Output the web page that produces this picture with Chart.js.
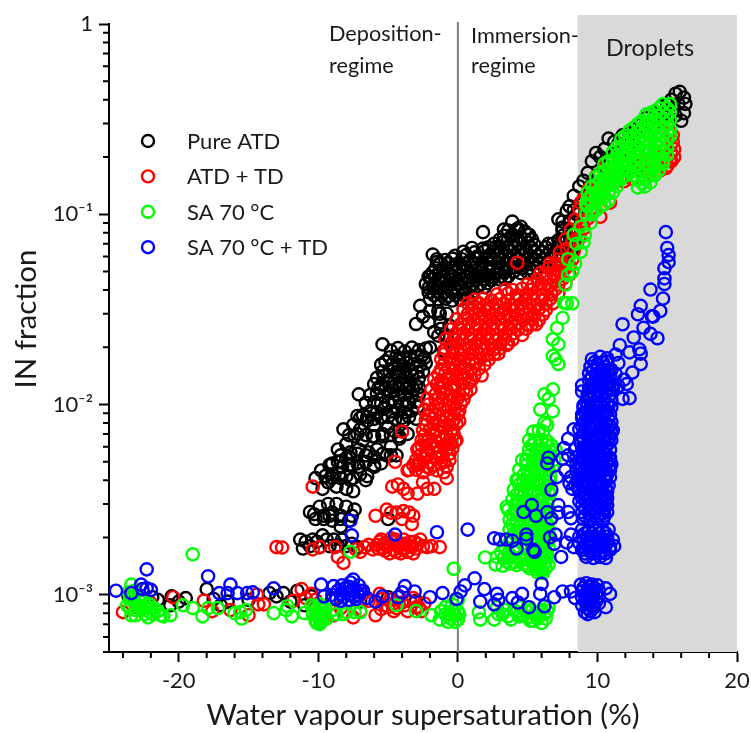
<!DOCTYPE html>
<html><head><meta charset="utf-8"><style>html,body{margin:0;padding:0;background:#fff}canvas{display:block}</style>
<script src="https://cdn.jsdelivr.net/npm/chart.js@4"></script></head>
<body><canvas id="c" width="751" height="733"></canvas>
<script>
const seriesNames=["Pure ATD","ATD + TD","SA 70 °C","SA 70 °C + TD"];
const seriesColors=["#000000","#ff0000","#00ff00","#0000ff"];
const xMajor=[-20,-10,0,10,20];
const xMinor=[-24,-22,-18,-16,-14,-12,-8,-6,-4,-2,2,4,6,8,12,14,16,18];
const yMajor=[1,0.1,0.01,0.001];
const yMinor=[0.9,0.8,0.7,0.6,0.5,0.4,0.3,0.2,0.09,0.08,0.07,0.06,0.05,0.04,0.03,0.02,0.009,0.008,0.007,0.006,0.005,0.004,0.003,0.002,0.0009,0.0008,0.0007,0.0006,0.0005];
const yTickText={"1":"1","0.1":"10⁻¹","0.01":"10⁻²","0.001":"10⁻³"};
const regimeNotes=[["Deposition-",329,41],["regime",329,73],["Immersion-",471,43],["regime",471,73],["Droplets",606,56]];

const pureAtd=[
[-23.6,.00098],[-23.2,.00092],[-22.8,.00096],[-22.3,.00088],[-21.9,.00097],[-21.5,.00094],[-20.6,.00088],[-20.5,.00098],[-20,.00092],[-19.5,.00096],[-18,.00107],[-17.5,.00095],[-17,.00088],[-16.5,.00092],[-15,.00094],[-13.5,.00102],[-13,.00098],[-12.5,.00102],[-12,.00092],[-11.5,.00105],[-11,.00088],[-10.5,.00098],[-9,.00095],[-7,.00092],[-5,.00097],[-3,.00093],
[-11.3,.00195],[-11.1,.00175],[-10.9,.0019],[-10.6,.0018],[-10.4,.00195],[-10.1,.0019],[-9.9,.00178],[-9.7,.00205],[-9.4,.00195],[-9.2,.0018],[-8.9,.00195],[-8.6,.00182],[-8.3,.00195],[-8,.0018],[-7.6,.00185],[-7.2,.00178],[-8.4,.00228],
[-10.6,.00272],[-10.3,.00265],[-9.9,.0029],[-9.6,.0026],[-9.3,.003],[-9,.0027],[-8.7,.003],[-8.4,.0026],[-8,.0029],[-7.6,.0026],[-7.4,.0028],[-9.2,.0026],[-5,.0025],
[-10.2,.0041],[-9.8,.0045],[-9.7,.0036],[-9.3,.0039],[-9,.0043],[-8.7,.0037],[-8.4,.0041],[-8,.0036],[-7.7,.004],[-7.5,.0035],[-9.2,.0048],[-8.6,.005],[-8.3,.0047],[-8,.0052],[-7.6,.0048],[-7.1,.0047],[-6.6,.004],[-6,.0047],
[-8.6,.0058],[-8.2,.0074],[-8,.0062],[-7.7,.0056],[-7.4,.0068],[-7.1,.0058],[-6.8,.0065],[-6.4,.0056],[-6.1,.0068],[-5.8,.0058],[-5.4,.0068],[-5.1,.0054],[-4.8,.006],[-7.5,.0078],[-7,.0074],[-6.5,.0082],[-6,.0078],[-5.5,.0086],[-5,.0076],[-4.5,.0072],[-4.2,.0066],[-3.9,.0082],
[-7.2,.0087],[-6.8,.0088],[-6.3,.0092],[-5.8,.0091],[-5.3,.0095],[-4.8,.0092],[-4.3,.0094],[-3.8,.0091],[-3.3,.0093],[-2.9,.0097],
[-7.1,.0113],[-6.3,.0112],[-5.8,.0114],[-5.3,.0111],[-4.8,.0115],[-4.3,.0112],[-3.8,.0113],[-3.3,.0111],[-2.8,.0113],
[-6,.0128],[-5.5,.0126],[-5,.0129],[-4.5,.0125],[-4,.0128],[-3.5,.0127],[-3,.0126],
[-5.8,.0138],[-5.3,.0141],[-4.8,.0137],[-4.3,.0142],[-3.8,.0139],[-3.3,.0143],[-2.8,.0137],
[-5.5,.0162],[-5.2,.0168],[-4.7,.0163],[-4.2,.0161],[-3.7,.0166],[-3.2,.0163],[-2.7,.0161],[-2.3,.0165],
[-5.4,.0207],[-4.8,.0192],[-4.3,.0198],[-3.8,.019],[-3.3,.0199],[-2.8,.0193],[-2.3,.0197],[-2,.0199],[-1,.0191],[-4.2,.0175],[-3.4,.0178],[-2.6,.018],
[-2.1,.027],[-3,.0265],[-2.7,.033],[-2.5,.029],[-1.3,.03],[-1.8,.0614],[-1.5,.056],[-2,.047],[-2.1,.041],[-.8,.023],[-1.2,.025],[-1.7,.024],
[-2,.0356],[-1.4,.0356],[-.9,.036],[-.4,.0352],[.2,.0356],[.7,.036],
[-2.1,.039],[-1.5,.0392],[-1,.0388],[-.5,.0394],[0,.039],[.5,.0386],[1.1,.039],
[-2.3,.043],[-1.7,.0428],[-1.2,.0434],[-.7,.0428],[-.1,.043],[.5,.0436],[1,.0428],[1.6,.043],[2.1,.0434],
[-2.1,.047],[-1.6,.0474],[-1,.0466],[-.4,.047],[.1,.0476],[.7,.0468],[1.3,.047],[1.9,.0475],[2.5,.0468],[3.1,.047],[3.6,.0472],
[-1.6,.052],[-1.1,.0515],[-.5,.0524],[.1,.0518],[.6,.0522],[1.2,.052],[1.7,.0515],[2.3,.0525],[2.9,.052],[3.4,.0516],[4,.0524],[4.6,.0518],[5.1,.052],[5.7,.0525],
[-1.5,.058],[-.9,.0575],[-.4,.0585],[.3,.058],[.9,.0574],[1.5,.0586],[2.1,.058],[2.6,.0575],[3.2,.0584],[3.8,.0578],[4.4,.058],[5,.0586],[5.6,.0576],[6.2,.058],[6.7,.0584],[7.3,.0578],
[.4,.0635],[1.2,.063],[1.9,.064],[2.5,.0635],[3.1,.063],[3.7,.064],[4.3,.0632],[4.9,.0638],[5.5,.0632],[6,.0635],[6.6,.064],[7.2,.063],[7.7,.0638],[8.2,.0635],
[2.6,.07],[3.2,.071],[3.8,.069],[4.4,.07],[5,.071],[5.5,.069],[6.8,.07],[7.4,.071],[8,.069],[8.5,.07],
[3.3,.077],[3.9,.078],[4.5,.076],[5.1,.078],[7.5,.077],[8.2,.078],[8.7,.076],
[3.9,.0915],[4.3,.084],[3.3,.083],[1.8,.0805],[4.5,.086],[5,.078],[2.7,.067],[1.8,.066],[6.5,.07],[7.5,.085],
[8,.11],[8.3,.125],[8.7,.14],[9,.15],[9.3,.165],[9.6,.19],[9.9,.21],[10.2,.2],[10.5,.22],[10.8,.25],[11.2,.24],[11.5,.235],[11.8,.26],[12.3,.265],[12.7,.28],[13.2,.3],[13.5,.32],[13.9,.31],[14.2,.34],[14.6,.37],[15,.38],[15.3,.4],[15.6,.43],[15.9,.44],[16.2,.41],[16.3,.38],[16.2,.34],[16,.31],[15.6,.33],[15.4,.36],[15.8,.38],[15.2,.34],[15,.3],
[7.2,.094],[8,.09],[8.5,.1],[9,.12],[9.5,.14],[10,.16],[10.5,.18],[11,.2],[11.5,.2],[12,.22],[12.5,.24],[13,.25],[13.5,.27],[14,.29],[14.5,.31]
];
const pureAtdDense=[
[-8.4,.0054],[-7.8,.0053],[-7.2,.0055],[-6.6,.0054],[-6,.0053],[-5.4,.0055],[-4.8,.0054],[-4.4,.0054],
[-7.8,.0069],[-7.2,.007],[-6.6,.0069],[-6,.0068],[-5.4,.007],[-4.8,.0069],[-4.2,.0068],[-3.6,.007],
[-7,.0085],[-6.5,.0086],[-6,.0084],[-5.5,.0085],[-5,.0086],[-4.5,.0084],[-4,.0085],[-3.5,.0086],[-3,.0084],
[-6.6,.0102],[-6,.0103],[-5.5,.0101],[-5,.0102],[-4.5,.0103],[-4,.0101],[-3.5,.0102],[-3,.0103],
[-5.7,.0122],[-5.2,.012],[-4.7,.0123],[-4.2,.0121],[-3.7,.0122],[-3.2,.012],[-2.8,.0123],
[-5.4,.0149],[-4.9,.015],[-4.4,.0148],[-3.9,.0149],[-3.4,.015],[-2.9,.0148],[-2.5,.0149],
[-4.9,.0177],[-4.4,.0179],[-3.9,.0176],[-3.4,.0177],[-2.9,.0179],[-2.4,.0176],
[-9.5,.0042],[-9,.0041],[-8.5,.0043],[-8,.0042],[-7.5,.0041],[-7,.0043],[-6.5,.0042],
[-9,.0049],[-8.4,.005],[-7.8,.0048],[-7.2,.0049],[-6.6,.005],[-6,.0048],[-5.5,.0049],
[-10.2,.0025],[-9.6,.0025],[-9,.00245],[-8.4,.0025],[-7.8,.00245],
[-2,.031],[-1.4,.031],[-.8,.03],[-1.2,.027],[-.6,.026],[-1.4,.023],
[-1.7,.0375],[-1.2,.0378],[-.7,.0372],[-.2,.0375],[.4,.0378],[1,.0372],
[-1.8,.041],[-1.3,.0413],[-.8,.0408],[-.2,.041],[.3,.0413],[.8,.0408],[1.4,.041],[1.9,.0413],
[-1.9,.0454],[-1.4,.0458],[-.9,.045],[-.4,.0454],[.2,.0458],[.8,.045],[1.3,.0454],[1.9,.0458],[2.4,.045],[3,.0454],[3.4,.0458],
[-1.8,.0495],[-1.3,.05],[-.7,.049],[-.2,.0495],[.4,.05],[1,.049],[1.6,.0495],[2.2,.05],[2.8,.049],[3.4,.0495],[4,.05],[4.5,.049],[5,.0495],[5.4,.05],
[-1.3,.055],[-.7,.0555],[-.1,.0545],[.5,.055],[1.1,.0555],[1.7,.0545],[2.3,.055],[2.9,.0555],[3.5,.0545],[4.1,.055],[4.7,.0555],[5.3,.0545],[5.9,.055],[6.5,.0555],[7,.0545],
[-.2,.0605],[.6,.061],[1.4,.06],[2.2,.0605],[2.8,.061],[3.4,.06],[4,.0605],[4.6,.061],[5.2,.06],[5.8,.0605],[6.4,.061],[7,.06],[7.5,.0605],[8,.061],
[1,.0665],[2.2,.067],[2.9,.066],[3.5,.0665],[4.1,.067],[4.7,.066],[5.3,.0665],[6.3,.067],[7.1,.066],[7.7,.0665],[8.3,.067],
[3,.0736],[3.6,.074],[4.2,.073],[4.8,.0736],[5.3,.074],[7.2,.073],[7.8,.0736],[8.4,.074],
[3.6,.082],[4.2,.083],[4.8,.081],[7.5,.082],[8,.083],[8.5,.081],[7.5,.0915],[8,.092],[8.4,.091],[7.8,.104],[8.3,.105]
];

const atdTd=[
[-24,.00081],[-23,.00086],[-22,.0009],[-20.4,.00097],[-18.2,.00093],[-17.6,.00082],[-16.3,.00083],[-15,.00078],[-14.4,.001],[-14.3,.00089],[-13.9,.00089],[-11.8,.00093],[-11.2,.00107],[-10.9,.00096],[-10.5,.00101],[-10.2,.00094],[-8.9,.00078],[-8.4,.00085],[-7.5,.00076],[-7,.00082],[-6.8,.00101],[-6.4,.00093],[-5.9,.00078],[-5.6,.00101],[-5.2,.00088],[-4.8,.00094],[-4.4,.00085],[-4,.00091],[-3.6,.00082],[-3.2,.00096],[-2.8,.00086],[-2.4,.0009],
[-13,.00178],[-12.6,.00177],[-10.4,.00173],[-9.9,.00178],[-8.8,.00178],[-8.6,.00158],[-8.2,.00147],[-7.3,.00173],[-6.7,.00178],[-6.1,.00173],[-5.8,.00183],[-5.4,.00175],[-5,.00188],[-4.6,.00172],[-4.2,.00185],[-3.8,.00176],[-3.4,.00189],[-5.5,.00195],[-4.8,.00198],[-3.9,.00195],[-3,.00175],[-2.5,.0018],[-2.7,.00195],[-2.2,.00178],[-1.9,.0018],[-1.3,.00178],[-5.2,.0017],[-4.4,.00168],[-3.6,.00168],
[-5.9,.0026],[-4.8,.0027],[-4.4,.0027],[-3.9,.00275],[-3.2,.0026],[-3.3,.00235],[-5.1,.0028],[-4,.0025],[-3.5,.0027],
[-10.4,.0037],[-4.7,.0037],[-4.3,.0038],[-3.9,.0036],[-3.6,.0034],[-2.9,.0034],[-2.2,.0036],[-1.7,.0036],[-2.5,.0039],[-4.5,.005],[-3.6,.0045],[-4,.0072],[-2.9,.0048],[-.8,.0041],[-.6,.0051],[-.1,.0065],[-2.5,.0073],[-2.8,.0059],
[-3.5,.00454],[-3,.00454],[-2.5,.0044],[-2,.0046],[-1.5,.0045],[-1,.0044],
[-3,.0051],[-2.5,.0052],[-2,.005],[-1.5,.0052],[-1,.005],
[-2.9,.0058],[-2.3,.0057],[-1.8,.0059],[-1.3,.0057],[-.8,.0058],[-.4,.0059],
[-2.6,.0065],[-2.1,.0066],[-1.6,.0064],[-1.1,.0066],[-.6,.0065],[-.2,.0064],
[-2,.0074],[-1.5,.0073],[-1,.0075],[-.5,.0073],
[-2.3,.0083],[-1.8,.0084],[-1.3,.0082],[-.8,.0084],[-.3,.0083],[.1,.0082],
[-2.4,.0094],[-1.9,.0092],[-1.3,.0095],[-.8,.0093],[-.2,.0095],[.1,.0093],
[-2.2,.0107],[-1.6,.0106],[-1.1,.0108],[-.6,.0106],[0,.0108],[.4,.0106],
[-1.9,.012],[-1.3,.0122],[-.8,.0119],[-.2,.0121],[.4,.0119],[.9,.012],
[-1.7,.0136],[-1.2,.0134],[-.6,.0137],[0,.0135],[.5,.0137],[1,.0135],[1.7,.0142],
[-1.2,.0153],[-.7,.0155],[-.2,.0152],[.4,.0155],[.9,.0152],[1.5,.0154],
[-1.2,.0173],[-.6,.0175],[0,.0172],[.5,.0175],[1,.0172],[1.6,.0174],[2.2,.0172],[2.9,.0185],
[-.9,.0195],[-.4,.0197],[.2,.0194],[.8,.0197],[1.3,.0194],[1.9,.0196],[2.5,.0194],[3,.0197],[3.5,.0205],
[-.9,.022],[-.3,.0222],[.3,.0218],[.9,.0222],[1.5,.0218],[2.1,.0221],[2.7,.0218],[3.3,.0221],[3.9,.0219],
[-.5,.0248],[.1,.0251],[.7,.0246],[1.3,.025],[1.9,.0246],[2.5,.025],[3.1,.0246],[3.7,.025],[4.3,.0247],[4.9,.025],[5.3,.0263],
[-.1,.028],[.5,.0283],[1.1,.0277],[1.7,.0282],[2.3,.0278],[2.9,.0282],[3.5,.0278],[4.1,.0282],[4.7,.0278],[5.3,.0282],[5.8,.0278],
[.4,.0316],[1,.0319],[1.6,.0313],[2.2,.0318],[2.8,.0314],[3.4,.0318],[4,.0314],[4.6,.0318],[5.2,.0314],[5.8,.0318],[6.3,.0314],
[.7,.034],[1.2,.0356],[1.8,.036],[2.4,.0352],[3,.0358],[3.6,.0352],[4.2,.0358],[4.8,.0352],[5.4,.0358],[6,.0352],[6.6,.0358],
[3.4,.0402],[3.9,.04],[4.6,.0406],[5.2,.04],[5.8,.0405],[6.4,.04],[7,.0405],
[5,.043],[5.7,.0454],[6.3,.046],[6.9,.045],[7.5,.0458],[5.9,.049],
[6.5,.052],[7.1,.0505],[7.7,.052],[6.6,.055],[7.2,.0578],[7.8,.057],[8.2,.058],[7.3,.063],[7.8,.066],[8.3,.064],[7.7,.0736],[8.2,.072],[8.7,.075],[8.1,.083],[8.6,.082],[9,.084],[8.4,.0936],[8.9,.092],[9.3,.095],[8.7,.106],[9.2,.105],[9.6,.107],[8.8,.115],[9,.12],[9.5,.122],[10,.119],[9.4,.136],[9.9,.134],[10.3,.137],
[4.25,.0555],
[15.4,.26],[15.5,.2],[14.9,.175],[15.2,.19],[12.5,.153],[11.9,.149],[10.9,.115],[10.2,.097],[9.9,.158],[10.7,.187],
[11,.17],[11.5,.17],[12,.16],[12.5,.17],[13,.18],[13.5,.19],[14,.19],[14.5,.2],[15,.2],[15.3,.21],[15.4,.24],[15.5,.22],[15.3,.19],[15,.18],[14.5,.17],[15.2,.27],[13.9,.17],[13.3,.16]
];
const atdTdDense=[
[-3.2,.0048],[-2.7,.0049],[-2.2,.0047],[-1.7,.0048],[-1.2,.0049],[-.8,.0047],
[-2.7,.0054],[-2.2,.0055],[-1.6,.0053],[-1.1,.0054],[-.6,.0055],
[-2.6,.0061],[-2,.0062],[-1.5,.006],[-1,.0061],[-.5,.0062],
[-2.4,.0069],[-1.8,.007],[-1.3,.0068],[-.8,.0069],[-.3,.007],
[-2.3,.0078],[-1.7,.0079],[-1.1,.0077],[-.6,.0078],[-.1,.0079],
[-2.1,.0088],[-1.6,.0089],[-1.1,.0087],[-.5,.0088],[0,.0089],
[-2.1,.01],[-1.4,.0101],[-.9,.0099],[-.3,.01],[.2,.0101],
[-1.6,.0113],[-1,.0115],[-.5,.0112],[.1,.0113],[.6,.0115],
[-1.5,.0128],[-1,.013],[-.3,.0127],[.3,.0128],[.8,.013],
[-1.4,.0144],[-.9,.0146],[-.4,.0143],[.2,.0144],[.7,.0146],[1.2,.0143],
[-1,.0163],[-.4,.0165],[.2,.0162],[.8,.0163],[1.3,.0165],[1.9,.0162],
[-1,.0184],[-.3,.0186],[.3,.0182],[.9,.0184],[1.5,.0186],[2.1,.0182],[2.6,.0184],
[-.6,.0207],[0,.021],[.6,.0205],[1.2,.0207],[1.8,.021],[2.4,.0205],[3,.0207],[3.6,.021],
[-.2,.0234],[.4,.0237],[1,.0232],[1.6,.0234],[2.2,.0237],[2.8,.0232],[3.4,.0234],[4,.0237],[4.6,.0232],
[.2,.0264],[.8,.0267],[1.4,.0262],[2,.0264],[2.6,.0267],[3.2,.0262],[3.8,.0264],[4.4,.0267],[5,.0262],[5.6,.0264],
[.7,.0298],[1.3,.0302],[1.9,.0295],[2.5,.0298],[3.1,.0302],[3.7,.0295],[4.3,.0298],[4.9,.0302],[5.5,.0295],[6.1,.0298],
[1,.0336],[1.5,.034],[2.1,.0332],[2.7,.0336],[3.3,.034],[3.9,.0332],[4.5,.0336],[5.1,.034],[5.7,.0332],[6.3,.0336],[6.8,.034],
[2.8,.0379],[3.6,.0384],[4.3,.0375],[4.9,.0379],[5.5,.0384],[6.1,.0375],[6.7,.0379],[7.2,.0384],
[5.4,.0427],[6,.0432],[6.6,.0422],[7.2,.0427],[7.7,.0432],[6.2,.0482],[6.8,.0488],[7.4,.0476],[8,.0482],[6.9,.0544],[7.5,.055],[8,.0538],
[-5.6,.0019],[-5.1,.0018],[-4.7,.0019],[-4.3,.0018],[-3.9,.00185],[-3.5,.0018],[-3.1,.0019],[-4.9,.00165],[-4,.00175],[-3.2,.00165],
[-5.3,.00185],[-4.5,.00195],[-4.1,.00165],[-3.7,.00185],[-3.3,.00178],[-2.9,.00185],[-5.7,.00175],[-6.4,.00183],[-7,.00168],
[-5.4,.00095],[-5,.00086],[-4.6,.0009],[-4.2,.00098],[-3.8,.00088],[-3.4,.00092],[-3,.00086],[-5.5,.00084],[-4.6,.00082],[-2.6,.00082]
];

const sa70=[
[-23.4,.00113],[-23.6,.00103],[-23.3,.00095],[-23.7,.00088],[-23.4,.00078],[-23.1,.00083],[-22.9,.00098],[-23,.00089],[-22.7,.00084],[-22.5,.00092],[-22.3,.00086],[-22.1,.00081],[-22.1,.00089],[-21.8,.00085],[-22.2,.00076],[-21.5,.00082],[-21.3,.00078],[-21.1,.00077],[-20.6,.00078],
[-19.7,.00088],[-19,.00085],[-18.3,.00077],[-17.9,.00085],[-17.2,.00085],[-16,.0008],[-15.6,.00081],[-15.2,.00083],[-15.5,.00075],[-13.2,.0008],[-12.2,.00087],[-11.9,.00077],[-12.3,.00083],[-11,.0008],
[-10.5,.00088],[-10.2,.00083],[-9.8,.00086],[-10.4,.00079],[-10,.00077],[-9.6,.0008],[-10.2,.00073],[-9.8,.00072],[-9.4,.00075],[-9,.00083],[-8.7,.00079],[-8.2,.00079],[-8,.00081],[-7.4,.00081],[-7,.00081],
[-19,.00163],[-7.7,.00168],
[-4.4,.00088],[-3,.00082],[-1.9,.00078],[-1.3,.00074],[-.7,.00072],[0,.00074],[-.9,.00086],[-.3,.00083],[.1,.00079],[0,.00094],[-.2,.00078],[-.6,.00079],[-.3,.00137],
[1.5,.00081],[1.6,.00074],[2.6,.00074],[2.8,.00086],[3.2,.00079],[3.8,.00074],[4.2,.00081],[4.5,.00086],[4.7,.00078],[5,.00076],[5.2,.00083],[5.5,.00079],[5.8,.00081],[6,.00071],[6.4,.00082],[6.3,.00075],[5.7,.00075],[5.2,.00073],[6.5,.00086],
[1.95,.00157],[2.7,.00144],[3.2,.00142],[3.7,.00146],[4.2,.00143],[4.7,.00145],[5,.00142],[5.4,.00146],[5.8,.00142],[6.2,.00145],[6.5,.00143],[5.6,.00136],[6,.00134],
[2.8,.00158],[3.3,.00156],[3.8,.0016],[4.4,.00156],[4.9,.0016],[5.3,.00157],[5.7,.0016],[6.1,.00156],[6.4,.0016],
[3.4,.00177],[4,.00175],[5,.00178],[5.4,.00175],[5.8,.00178],[6.2,.00175],[6.5,.00178],
[3.9,.002],[4.5,.00197],[5,.002],[5.5,.00197],[6,.002],[6.5,.00197],
[3.7,.0022],[4.3,.00217],[4.8,.0022],[5.3,.00217],[5.8,.0022],[6.2,.00217],[6.5,.0022],
[3.7,.00248],[4.2,.00245],[4.7,.00248],[5.2,.00245],[5.7,.00248],[6.2,.00245],[6.6,.00248],
[3.6,.0028],[4.1,.00276],[4.6,.0028],[5.1,.00276],[5.6,.0028],[6.1,.00276],[6.5,.0028],
[3.5,.0029],[3.9,.00316],[4.4,.0031],[4.9,.00316],[5.4,.0031],[5.9,.00316],[6.4,.0031],
[4,.00356],[4.5,.0035],[5,.00356],[5.5,.0035],[6,.00356],[6.5,.0035],
[4.2,.00402],[4.3,.004],[4.7,.00395],[5.2,.00402],[5.7,.00395],[6.2,.00402],[6.6,.00395],
[4.4,.00454],[5,.00447],[5.5,.00454],[6,.00447],[6.5,.00454],
[4.6,.0051],[4.9,.00512],[5.4,.00505],[5.9,.00512],[6.4,.00505],[6.9,.00512],
[5.1,.00578],[5.6,.0057],[6.1,.00578],[6.6,.0057],[7,.00578],
[5.1,.0065],[5.5,.0064],[6,.0065],[6.4,.0064],
[5.4,.0072],[5.8,.0073],[6.1,.0072],[6.2,.008],[6.4,.0078],[6.8,.0092],[5.9,.0094],[6.5,.0107],[6.8,.012],[6.2,.0113],
[7.2,.0163],[7,.0173],[6.8,.018],[7.2,.0207],[6.8,.022],[7.1,.0252],[7.5,.0285],[7.6,.0342],[8.2,.034],[7.8,.034],[7.7,.0427],[8.2,.05],[7.9,.048],[7.9,.058],[8.4,.055],[8.8,.0635],[9,.071],[8.5,.07],[8.8,.086],[9.5,.09],[9.1,.078],[8.3,.078],
[9.3,.11],[9.3,.12],[9.3,.13],[9.6,.1],[9.9,.157],[9.9,.142],[9.9,.128],[9.9,.116],[9.9,.105],
[10.5,.184],[10.5,.167],[10.5,.151],[10.5,.137],[10.5,.124],[10.5,.113],
[11.1,.212],[11.1,.192],[11.1,.175],[11.1,.16],[11.1,.144],[11.1,.13],
[11.7,.248],[11.7,.224],[11.7,.203],[11.7,.185],[11.7,.168],[11.7,.153],
[12.3,.275],[12.3,.25],[12.3,.226],[12.3,.207],[12.3,.187],[12.3,.17],
[12.9,.298],[12.9,.27],[12.9,.245],[12.9,.22],[12.9,.2],[12.9,.184],[12.9,.167],[12.9,.151],[12.9,.138],
[13.5,.335],[13.5,.303],[13.5,.275],[13.5,.25],[13.5,.226],[13.5,.207],[13.5,.187],[13.5,.17],[13.5,.155],[13.4,.14],
[14.1,.348],[14.1,.316],[14.1,.287],[14.1,.26],[14.1,.236],[14.1,.214],[14.1,.195],[14.1,.176],[14.1,.16],
[14.7,.379],[14.7,.344],[14.7,.311],[14.7,.28],[14.7,.258],[14.7,.234],[14.7,.212],[14.7,.192],[14.7,.184],
[15.2,.379],[15.2,.344],[15.2,.311],[15.2,.28],[15.2,.258]
];
const sa70Dense=[
[3.5,.0015],[4,.00148],[4.5,.00151],[5.2,.0015],[5.6,.00148],[6,.00151],[6.3,.0015],
[3.1,.00167],[3.6,.00165],[4.2,.00168],[5.2,.00167],[5.6,.00165],[6,.00168],[6.3,.00167],
[3.7,.00188],[4.6,.00186],[5.2,.00189],[5.7,.00188],[6.1,.00186],[6.4,.00189],
[4,.0021],[4.6,.00208],[5.1,.00211],[5.6,.0021],[6.1,.00208],[6.4,.00211],
[3.9,.00234],[4.5,.00232],[5,.00235],[5.5,.00234],[6,.00232],[6.4,.00235],
[3.9,.00264],[4.4,.00261],[4.9,.00266],[5.4,.00264],[5.9,.00261],[6.4,.00266],
[4.1,.00298],[4.6,.00295],[5.1,.003],[5.6,.00298],[6.1,.00295],[6.4,.003],
[4.2,.00336],[4.7,.00332],[5.2,.00339],[5.7,.00336],[6.2,.00332],[6.6,.00339],
[4.4,.00379],[4.9,.00375],[5.4,.00383],[5.9,.00379],[6.4,.00375],
[4.7,.00427],[5.2,.00422],[5.7,.00431],[6.2,.00427],[6.6,.00422],
[4.9,.0048],[5.4,.00475],[5.9,.00485],[6.4,.0048],[6.8,.00475],
[5.1,.0054],[5.6,.00535],[6.1,.00545],[6.6,.0054],
[5.3,.0061],[5.8,.00605],[6.3,.00615],[6.7,.0061],
[10.2,.165],[10.2,.15],[10.2,.136],[10.2,.123],[10.2,.11],
[10.8,.19],[10.8,.173],[10.8,.157],[10.8,.143],[10.8,.13],[10.8,.118],
[11.4,.225],[11.4,.205],[11.4,.185],[11.4,.168],[11.4,.152],[11.4,.14],
[12,.258],[12,.235],[12,.213],[12,.194],[12,.176],[12,.16],
[12.6,.285],[12.6,.26],[12.6,.235],[12.6,.213],[12.6,.193],[12.6,.175],[12.6,.16],
[13.2,.31],[13.2,.283],[13.2,.258],[13.2,.235],[13.2,.213],[13.2,.193],[13.2,.175],[13.2,.16],[13.2,.146],
[13.8,.34],[13.8,.31],[13.8,.283],[13.8,.258],[13.8,.235],[13.8,.213],[13.8,.193],[13.8,.175],[13.8,.16],[13.8,.147],
[14.4,.36],[14.4,.33],[14.4,.3],[14.4,.272],[14.4,.247],[14.4,.225],[14.4,.205],[14.4,.186],[14.4,.17],
[15,.36],[15,.33],[15,.3],[15,.272],[15,.247],[15,.225],[15,.205],
[9.6,.14],[9.6,.127],[9.6,.115],[9.6,.105],[9.2,.1],[9.2,.112],
[-23.5,.00095],[-23.2,.00105],[-23.5,.00085],[-23.1,.00078],[-22.7,.00092],[-22.4,.00079],[-22.5,.00085],[-22,.00085],[-21.8,.00079],
[-10.3,.00086],[-10,.0008],[-9.9,.00075],[-10.2,.00078],[-9.7,.00083],[-9.9,.00089],[-9.6,.00076],[-9.5,.00085],[-10.1,.00071],[-9.9,.0007],
[2.9,.00079],[3.4,.00083],[3.6,.00077],[4,.00083],[4.4,.00077],[4.9,.00082],[5.4,.00073],[5.8,.00077],[6.2,.00079],[6,.00083],[5,.00086],[-.5,.00075],[-.9,.00079],[-.2,.00072],[-.4,.00089],[0,.00082],[-1.2,.00082],
[5.1,.00138],[5.5,.00142],[5.9,.00138],[6.3,.00138],[5.7,.00131],[6.1,.0013]
];

const sa70Td=[
[-24.5,.00105],[-23.4,.00102],[-22.7,.00113],[-22.3,.00136],[-22.3,.00108],[-22.6,.00107],[-22,.00106],
[-17.9,.00125],[-17.1,.00102],[-16.3,.00113],[-16.5,.00102],[-15.8,.00102],[-15.1,.00102],[-14.7,.00103],[-13.2,.00108],
[-9.8,.00113],[-9.6,.00098],[-8.9,.00111],[-9,.001],[-8.6,.00105],[-8.3,.00112],[-8,.00102],[-7.7,.00116],[-7.5,.00108],[-7.2,.00103],[-7.4,.00098],[-8.2,.00097],[-7.8,.00094],[-7.1,.00112],[-7.5,.0012],[-6.5,.00096],[-5.9,.00092],
[-5.4,.00098],[-3.8,.00111],[-4,.00103],[-4.3,.00097],[-3.1,.00104],[-2,.00097],[-1.1,.00102],[-.1,.00095],[.2,.00104],[.5,.00112],[1.2,.00122],[1.9,.00107],[1.6,.00092],[2.8,.00101],[2.9,.00094],[2.6,.00089],[3.9,.00096],[4.6,.00101],[4.3,.00091],[5.1,.00086],[6,.00114],[5.9,.00101],[6.2,.00087],[6.9,.00097],[7.5,.00104],[8.1,.00104],[8.4,.00096],
[-7.6,.00205],[-7.7,.00245],[-4.5,.00207],[-1.5,.00213],[.7,.0022],[2.6,.00198],[3,.00195],[3.5,.00195],[3.9,.00192],[4.2,.00175],[4.9,.00207],[4.9,.00197],[5.4,.00172],[5.5,.00168],[7,.00207],[6.6,.002],[6.9,.00185],[8.1,.00207],[7.4,.00158],[7.8,.00188],[8.3,.00178],
[4.7,.00272],[5.6,.0026],[5.3,.00296],[6.4,.00272],[6.7,.00252],[7.2,.0027],[7.9,.00272],[8.1,.00252],
[6.5,.00525],[6.4,.0049],[7.1,.00415],[6.7,.00356],[7.2,.00296],[8,.00385],[7.7,.0045],[7.9,.0054],[7.9,.0066],[8.3,.0074],[8.4,.0058],[8.5,.0049],[8.2,.0036],[7.6,.0059],[7.5,.0052],
[8.9,.0117],[9,.0099],[9.3,.0108],[8.9,.0085],
[14.9,.0805],[15,.0665],[15.1,.061],[15.1,.056],[14.8,.052],[14.8,.046],[13.8,.0402],[14.8,.043],[13.1,.033],[14.7,.036],[14.5,.031],[12.9,.0298],[11.8,.0264],[13.9,.0291],[14,.029],[13.3,.0253],[12.6,.0225],[13.8,.0235],[14.3,.0223],[11.6,.0205],[13,.0195],[12.3,.0188],[11.3,.0183],[10.7,.0175],[13.1,.0185],[13.1,.0163],[12.5,.0147],[10,.0163],[11.5,.0165],[12.1,.0128],[12.3,.0108],[8.9,.0126],[11.3,.0145],[11.9,.0135],[11.5,.0125],[11.1,.012],[11.8,.0107],
[9.6,.0173],[10.2,.0178],[10.7,.0168],[9.5,.0158],[10,.0155],[10.5,.0158],[11,.0152],[9.4,.0146],[9.9,.0142],[10.4,.0146],[10.9,.0142],[9.4,.0134],[9.9,.013],[10.4,.0134],[10.9,.013],[11.1,.0125],[9.4,.0122],[9.9,.0119],[10.4,.0122],[10.9,.0119],[9.3,.0113],[9.8,.011],[10.3,.0113],[10.8,.011],[9.2,.0103],[9.7,.0101],[10.2,.0103],[10.7,.0101],[11,.0105],[9,.0096],[9.5,.0096],[10,.0098],[10.5,.0096],[11,.0097],
[8.9,.00885],[9.4,.0087],[9.9,.00885],[10.4,.0087],[10.9,.00885],
[9.1,.0081],[9.6,.008],[10.1,.0081],[10.6,.008],[11,.0081],
[8.7,.0074],[9.2,.0073],[9.7,.0074],[10.2,.0073],[10.7,.0074],[11.1,.0073],
[8.9,.0068],[9.4,.0067],[9.9,.0068],[10.4,.0067],[10.9,.0068],
[8.8,.00625],[9.3,.00618],[9.8,.00625],[10.3,.00618],[10.8,.00625],
[8.9,.00578],[9.4,.0057],[9.9,.00578],[10.4,.0057],[10.9,.00578],
[8.5,.0053],[9,.00525],[9.5,.0053],[10,.00525],[10.5,.0053],[10.9,.00525],
[8.7,.0049],[9.2,.00485],[9.7,.0049],[10.2,.00485],[10.7,.0049],[11,.00485],
[8.5,.0045],[9,.00445],[9.5,.0045],[10,.00445],[10.5,.0045],[10.9,.0045],
[8.1,.00415],[8.6,.0041],[9.1,.00415],[9.6,.0041],[10.1,.00415],[10.6,.0041],[10.9,.00415],
[8.4,.00379],[8.9,.00375],[9.4,.00379],[9.9,.00375],[10.4,.00379],[10.8,.00375],
[8.7,.0035],[9.2,.00346],[9.7,.0035],[10.2,.00346],[10.7,.0035],
[8.9,.00323],[9.4,.0032],[9.9,.00323],[10.4,.0032],[10.7,.00323],
[8.9,.00296],[9.4,.00292],[9.9,.00296],[10.4,.00292],[10.7,.00296],
[8.9,.00272],[9.4,.00268],[9.9,.00272],[10.4,.00268],[10.7,.00272],
[9,.0025],[9.5,.00246],[10,.0025],[10.4,.00246],
[8.9,.0022],[9.4,.00218],[9.9,.0022],[10.4,.00218],[10.8,.0022],
[8.7,.00202],[9.2,.002],[9.7,.00202],[10.2,.002],[10.7,.00202],[11.1,.00195],
[8.7,.00187],[9.2,.00185],[9.7,.00187],[10.2,.00185],[10.7,.00187],[11.2,.0018],
[8.9,.00172],[9.4,.0017],[9.9,.00172],[10.4,.0017],[10.9,.00172],
[9.2,.00158],[9.7,.00156],[10.2,.00158],[10.6,.00156],
[8.8,.00113],[9.2,.00115],[9.6,.00113],[10,.00112],[8.9,.00104],[9.3,.00106],[9.7,.00104],[10.1,.00105],[8.9,.00097],[9.3,.00099],[9.7,.00097],[10.1,.00098],[10.6,.00108],[10.9,.00101],[8.9,.00088],[9.3,.00089],[9.7,.00088],[10.1,.0009],[10.6,.00086],[9.1,.00081],[9.5,.00082],[9.8,.00081]
];
const sa70TdDense=[
[9.8,.0167],[10.4,.0167],[9.7,.0152],[10.3,.0152],[10.8,.0152],[9.6,.014],[10.2,.014],[10.7,.014],[9.6,.0127],[10.1,.0127],[10.6,.0127],[9.5,.0117],[10.1,.0117],[10.6,.0117],[9.4,.0107],[10,.0107],[10.5,.0107],[9.3,.0099],[9.8,.0099],[10.3,.0099],[10.8,.0099],
[9.1,.0091],[9.6,.0091],[10.1,.0091],[10.6,.0091],[9.3,.00845],[9.8,.00845],[10.3,.00845],[10.8,.00845],
[8.9,.0077],[9.4,.0077],[9.9,.0077],[10.4,.0077],[10.9,.0077],[9,.0071],[9.5,.0071],[10,.0071],[10.5,.0071],[11,.0071],
[9,.0065],[9.5,.0065],[10,.0065],[10.5,.0065],[11,.0065],[9.1,.006],[9.6,.006],[10.1,.006],[10.6,.006],
[9.1,.0055],[9.6,.0055],[10.1,.0055],[10.6,.0055],[8.9,.0051],[9.4,.0051],[9.9,.0051],[10.4,.0051],[10.9,.0051],
[8.9,.0047],[9.4,.0047],[9.9,.0047],[10.4,.0047],[10.9,.0047],[8.7,.0043],[9.2,.0043],[9.7,.0043],[10.2,.0043],[10.7,.0043],
[8.6,.00397],[9.1,.00397],[9.6,.00397],[10.1,.00397],[10.6,.00397],[8.6,.00365],[9.1,.00365],[9.6,.00365],[10.1,.00365],[10.6,.00365],
[9,.00336],[9.5,.00336],[10,.00336],[10.5,.00336],[8.7,.0031],[9.2,.0031],[9.7,.0031],[10.2,.0031],[10.6,.0031],
[9.1,.00284],[9.6,.00284],[10.1,.00284],[10.5,.00284],[9.1,.0026],[9.6,.0026],[10.1,.0026],[10.5,.0026],
[9.1,.0021],[9.6,.0021],[10.1,.0021],[10.6,.0021],[9,.00194],[9.5,.00194],[10,.00194],[10.5,.00194],
[9,.00179],[9.5,.00179],[10,.00179],[10.5,.00179],[10.9,.00179],[9.1,.00165],[9.6,.00165],[10.1,.00165],[10.6,.00165],
[9,.00109],[9.4,.0011],[9.8,.00108],[9.1,.001],[9.5,.00101],[9.9,.00101],[9.1,.00092],[9.5,.00093],[9.9,.00092],[9.3,.00085],[9.7,.00085],[9.3,.00079],
[-8.7,.00095],[-8.4,.00101],[-8.1,.00108],[-7.8,.001],[-7.6,.00105],[-7.3,.00095],[-7,.00105],[-7.8,.0011],[-8.4,.00093],[-7.1,.00099],[-6.8,.00105]
];

const seriesData=[pureAtd.concat(pureAtdDense),atdTd.concat(atdTdDense),sa70.concat(sa70Dense),sa70Td.concat(sa70TdDense)];
const FONT="Lato, sans-serif";
const decor={id:"decor",
  beforeDatasetsDraw(ch){
    const {ctx}=ch,x=ch.scales.x,y=ch.scales.y,a=ch.chartArea;
    ctx.save();
    const x0=x.getPixelForValue(8.58);
    ctx.fillStyle="#d9d9d9";ctx.fillRect(x0,15,x.getPixelForValue(20)-x0,a.bottom-15);
    const z=x.getPixelForValue(0);
    ctx.strokeStyle="#808080";ctx.lineWidth=2;ctx.beginPath();ctx.moveTo(z,22);ctx.lineTo(z,a.bottom);ctx.stroke();
    ctx.strokeStyle="#000";ctx.lineWidth=2;ctx.beginPath();
    xMinor.forEach(v=>{const p=x.getPixelForValue(v);ctx.moveTo(p,a.bottom);ctx.lineTo(p,a.bottom+6);});
    yMinor.forEach(v=>{const p=y.getPixelForValue(v);ctx.moveTo(a.left,p);ctx.lineTo(a.left-6,p);});
    ctx.stroke();ctx.restore();
  },
  afterDatasetsDraw(ch){
    const {ctx}=ch;ctx.save();
    ctx.fillStyle="#1a1a1a";ctx.textBaseline="alphabetic";ctx.textAlign="left";
    regimeNotes.forEach(([t,px,py],i)=>{ctx.font=(i==4?"23.4px ":"21.7px ")+FONT;ctx.fillText(t,px,py);});
    seriesNames.forEach((n,i)=>{
      const py=141+i*35.4;
      ctx.beginPath();ctx.arc(148,py,6,0,Math.PI*2);ctx.lineWidth=2.4;ctx.strokeStyle=seriesColors[i];ctx.stroke();
      ctx.fillStyle="#1a1a1a";ctx.font="22px "+FONT;ctx.textBaseline="middle";ctx.fillText(n,187,py+1);
    });
    ctx.font="29.4px "+FONT;ctx.textAlign="center";ctx.textBaseline="middle";
    ctx.translate(27,319);ctx.rotate(-Math.PI/2);ctx.fillText("IN fraction",0,0);
    ctx.restore();
  }};
new Chart(document.getElementById("c"),{type:"scatter",
  data:{datasets:seriesData.map((d,i)=>({label:seriesNames[i],data:d.map(p=>({x:p[0],y:p[1]})),
    borderColor:seriesColors[i],backgroundColor:"rgba(0,0,0,0)",pointRadius:6.1,pointBorderWidth:2.4,pointHoverRadius:6,order:4-i,clip:false}))},
  plugins:[decor],
  options:{responsive:false,animation:false,events:[],
    layout:{padding:{top:24,right:14,left:0,bottom:0}},
    plugins:{legend:{display:false},tooltip:{enabled:false}},
    scales:{
      x:{type:"linear",min:-25,max:20,
        afterBuildTicks:s=>{s.ticks=xMajor.map(v=>({value:v}));},
        afterFit:s=>{s.height=81;s.paddingRight=0;},
        grid:{drawOnChartArea:false,tickLength:10,tickColor:"#000",tickWidth:2},
        border:{color:"#000",width:2},
        ticks:{color:"#1a1a1a",font:{family:FONT,size:22},padding:6,maxRotation:0,autoSkip:false},
        title:{display:true,text:"Water vapour supersaturation (%)",color:"#1a1a1a",font:{family:FONT,size:29.4},padding:{top:9,bottom:0}}},
      y:{type:"logarithmic",min:0.0005,max:1,
        afterBuildTicks:s=>{s.ticks=yMajor.map(v=>({value:v}));},
        afterFit:s=>{s.width=109;},
        grid:{drawOnChartArea:false,tickLength:10,tickColor:"#000",tickWidth:2},
        border:{color:"#000",width:2},
        ticks:{color:"#1a1a1a",font:{family:FONT,size:22},padding:6,autoSkip:false,callback:v=>yTickText[String(v)]||""}}
    }}});
</script></body></html>
